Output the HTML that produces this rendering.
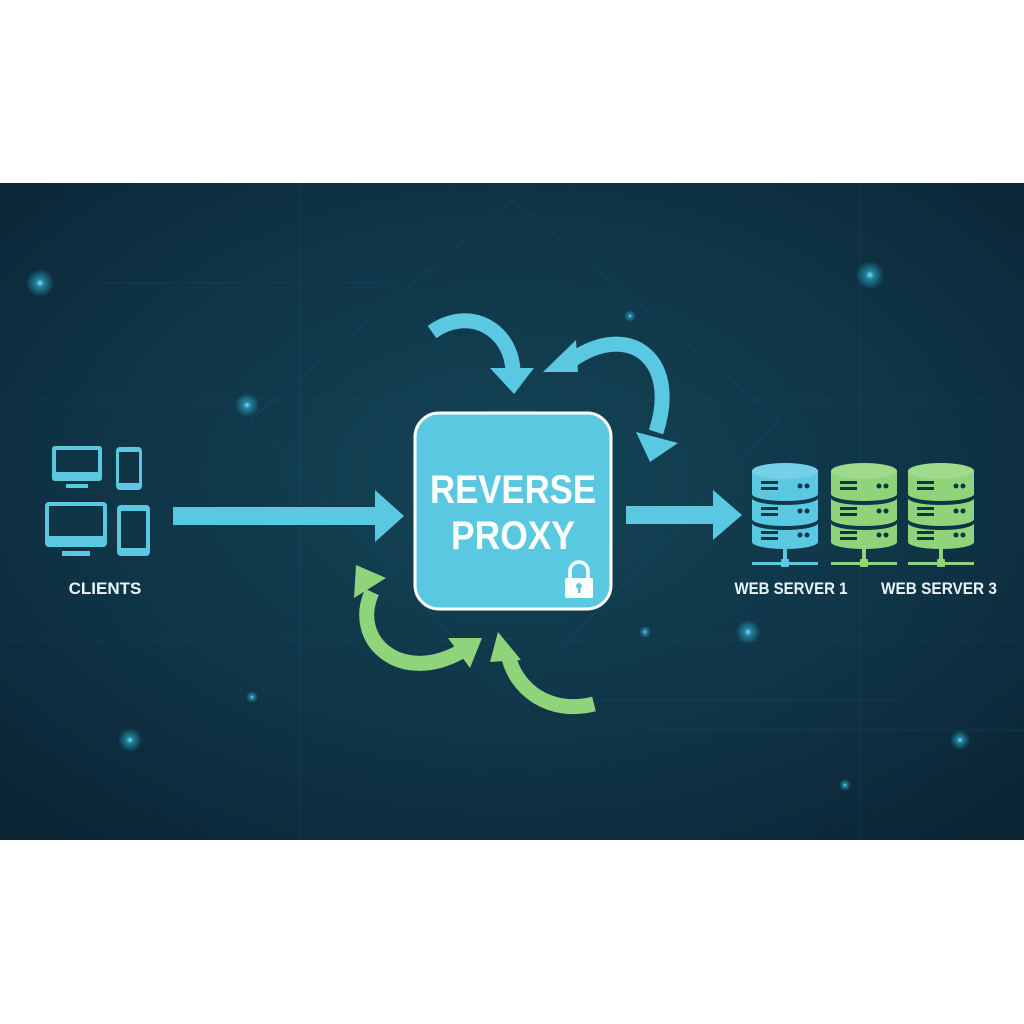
<!DOCTYPE html>
<html><head><meta charset="utf-8"><style>
html,body{margin:0;padding:0;background:#fff;}
svg{display:block;}
text{font-family:"Liberation Sans",sans-serif;font-weight:bold;}
</style></head><body>
<svg width="1024" height="1024" viewBox="0 0 1024 1024" xmlns="http://www.w3.org/2000/svg">
<defs>
<radialGradient id="bg" cx="0.5" cy="0.45" r="0.7">
<stop offset="0" stop-color="#134456"/>
<stop offset="0.6" stop-color="#0f3446"/>
<stop offset="1" stop-color="#0b2535"/>
</radialGradient>
<radialGradient id="glow"><stop offset="0" stop-color="#7fe8ff" stop-opacity="1"/><stop offset="0.3" stop-color="#2fb6d8" stop-opacity="0.6"/><stop offset="1" stop-color="#2fb6d8" stop-opacity="0"/></radialGradient>
<g id="srvB">
<path d="M0,8 L0,31 A33,7 0 0 0 66,31 L66,8 Z"/>
<path d="M0,35 L0,56 A33,7 0 0 0 66,56 L66,35 A33,7 0 0 1 0,35 Z"/>
<path d="M0,60 L0,79 A33,7 0 0 0 66,79 L66,60 A33,7 0 0 1 0,60 Z"/>
<ellipse cx="33" cy="8" rx="33" ry="8"/>
<ellipse cx="33" cy="8" rx="33" ry="8" fill="#fff" opacity="0.15"/>
<g fill="#0f3446">
<rect x="9" y="18" width="17" height="3"/><rect x="9" y="24" width="17" height="3"/>
<circle cx="48" cy="23" r="2.5"/><circle cx="55" cy="23" r="2.5"/>
<rect x="9" y="44" width="17" height="3"/><rect x="9" y="50" width="17" height="3"/>
<circle cx="48" cy="48" r="2.5"/><circle cx="55" cy="48" r="2.5"/>
<rect x="9" y="68" width="17" height="3"/><rect x="9" y="74" width="17" height="3"/>
<circle cx="48" cy="72" r="2.5"/><circle cx="55" cy="72" r="2.5"/>
</g>
<rect x="31" y="86" width="4" height="13"/>
<rect x="0" y="99" width="66" height="3"/>
<rect x="29" y="96" width="8" height="8" rx="1"/>
</g>
</defs>
<rect x="0" y="183" width="1024" height="657" fill="url(#bg)"/>
<g stroke="#2a6a80" stroke-width="1" fill="none" opacity="0.2">
<path d="M512,200 L780,420 L512,700 L250,420 Z"/>
<path d="M300,183 L300,840 M860,183 L860,840 M0,400 L1024,400 M0,640 L1024,640"/>
<path d="M100,283 L400,283 M600,700 L900,700 M650,730 L1024,730"/>
</g>
<g>
<circle cx="40" cy="283" r="14" fill="url(#glow)"/>
<circle cx="247" cy="405" r="12" fill="url(#glow)"/>
<circle cx="870" cy="275" r="14" fill="url(#glow)"/>
<circle cx="130" cy="740" r="12" fill="url(#glow)"/>
<circle cx="748" cy="632" r="12" fill="url(#glow)"/>
<circle cx="960" cy="740" r="10" fill="url(#glow)"/>
<circle cx="630" cy="316" r="6" fill="url(#glow)"/>
<circle cx="645" cy="632" r="6" fill="url(#glow)"/>
<circle cx="252" cy="697" r="6" fill="url(#glow)"/>
<circle cx="845" cy="785" r="6" fill="url(#glow)"/>
</g>
<g fill="#5bc8e2">
<rect x="52" y="446" width="50" height="35" rx="3"/>
<rect x="56" y="450" width="42" height="22" fill="#0f3446"/>
<rect x="66" y="484" width="22" height="4"/>
<rect x="116" y="447" width="26" height="43" rx="4"/>
<rect x="119" y="452" width="20" height="31" fill="#0f3446"/>
<rect x="45" y="502" width="62" height="45" rx="4"/>
<rect x="49" y="506" width="54" height="30" fill="#0f3446"/>
<rect x="62" y="551" width="28" height="5"/>
<rect x="117" y="505" width="33" height="51" rx="4"/>
<rect x="121" y="511" width="25" height="37" fill="#0f3446"/>
</g>
<text x="105" y="594" font-size="17" fill="#e8f4f8" text-anchor="middle">CLIENTS</text>
<g fill="#5bc8e2">
<rect x="173" y="507" width="204" height="18"/>
<polygon points="375,490 404,516 375,542"/>
<rect x="626" y="506" width="90" height="18"/>
<polygon points="713,490 742,515 713,540"/>
</g>
<g fill="none" stroke-width="15" stroke-linecap="butt">
<path d="M432,332 C470,305 512,330 513,372" stroke="#5bc8e2"/>
<path d="M572,360 C630,320 680,360 656,432" stroke="#5bc8e2"/>
<path d="M372,592 C350,640 400,685 460,652" stroke="#8fd47a"/>
<path d="M594,704 C550,715 515,690 508,654" stroke="#8fd47a"/>
</g>
<g fill="#5bc8e2">
<polygon points="490,368 534,368 514,394"/>
<polygon points="543,372 576,340 578,372"/>
<polygon points="636,432 678,443 650,462"/>
</g>
<g fill="#8fd47a">
<polygon points="356,565 386,578 354,598"/>
<polygon points="448,638 482,638 470,668"/>
<polygon points="498,632 521,660 490,662"/>
</g>
<rect x="415" y="413" width="196" height="196" rx="24" fill="#5bc8e2" stroke="#ffffff" stroke-width="3"/>
<text x="513" y="503" font-size="40" fill="#ffffff" text-anchor="middle" textLength="166" lengthAdjust="spacingAndGlyphs">REVERSE</text>
<text x="513" y="549" font-size="40" fill="#ffffff" text-anchor="middle" textLength="124" lengthAdjust="spacingAndGlyphs">PROXY</text>
<g fill="#ffffff">
<path d="M570,578 L570,571 A9,9 0 0 1 588,571 L588,578" fill="none" stroke="#fff" stroke-width="3.5"/>
<rect x="565" y="578" width="28" height="20" rx="2"/>
<circle cx="579" cy="586" r="3" fill="#5bc8e2"/>
<rect x="578" y="587" width="2.5" height="6" fill="#5bc8e2"/>
</g>
<g fill="#5bc8e2"><use href="#srvB" x="752" y="463"/></g>
<g fill="#8fd47a"><use href="#srvB" x="831" y="463"/></g>
<g fill="#8fd47a"><use href="#srvB" x="908" y="463"/></g>
<text x="791" y="594" font-size="17" fill="#e8f4f8" text-anchor="middle" textLength="113" lengthAdjust="spacingAndGlyphs">WEB SERVER 1</text>
<text x="939" y="594" font-size="17" fill="#e8f4f8" text-anchor="middle" textLength="116" lengthAdjust="spacingAndGlyphs">WEB SERVER 3</text>
</svg>
</body></html>
